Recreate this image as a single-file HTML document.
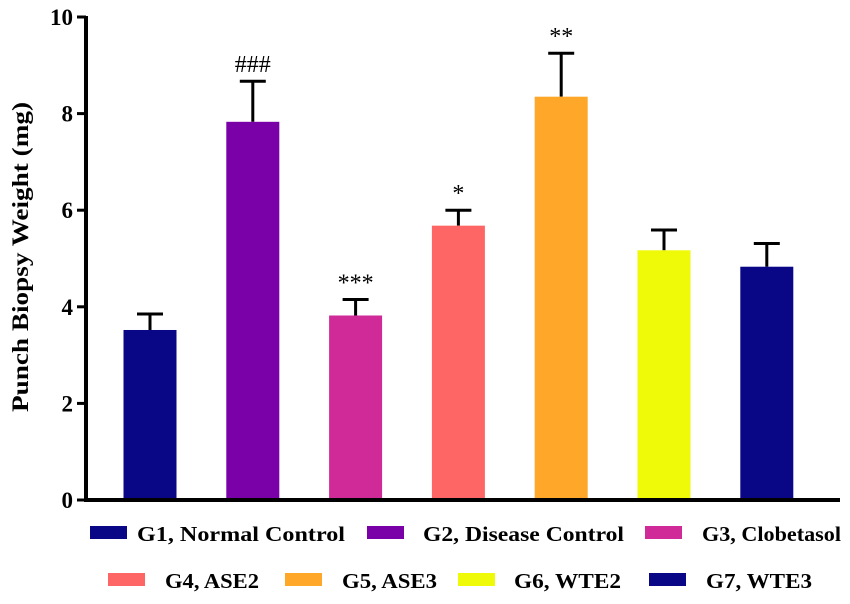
<!DOCTYPE html>
<html><head><meta charset="utf-8"><style>
body{margin:0;background:#fff;}
svg{display:block;font-family:"Liberation Serif",serif;font-weight:bold;}
</style></head><body>
<svg id="chart" width="850" height="604"></svg>
<script>
const categories=["G1, Normal Control","G2, Disease Control","G3, Clobetasol","G4, ASE2","G5, ASE3","G6, WTE2","G7, WTE3"];
const values=[3.52,7.83,3.82,5.68,8.35,5.17,4.83];
const errors=[0.33,0.84,0.33,0.32,0.9,0.42,0.48];
const marks=["","###","***","*","**","",""];
const colors=["#0a0787","#7a00a8","#cf2a98","#fe6666","#fea728","#eefa07","#0a0787"];
const yTicks=[0,2,4,6,8,10];
const NS="http://www.w3.org/2000/svg";
const svg=document.getElementById('chart');
function el(t,a,p){const e=document.createElementNS(NS,t);for(const k in a)e.setAttribute(k,a[k]);(p||svg).appendChild(e);return e;}
const y0=500,pxPer=48.3;
function y(v){return y0-v*pxPer;}
function xc(i){return 150+i*102.8;}
const bw=53;
values.forEach((v,i)=>{
  const e=el('line',{x1:xc(i),x2:xc(i),y1:y(v),y2:y(v+errors[i]),stroke:'#000','stroke-width':3});
  
  
  const c=el('line',{x1:xc(i)-13,x2:xc(i)+13,y1:y(v+errors[i]),y2:y(v+errors[i]),stroke:'#000','stroke-width':3});
  
  
  const r=el('rect',{x:xc(i)-bw/2,y:y(v),width:bw,height:y0-y(v),fill:colors[i]});
  
  
  if(marks[i]){
    const t=el('text',{x:xc(i),y:y(v+errors[i])-9,'text-anchor':'middle','font-size':24,'font-weight':'normal'});
    t.textContent=marks[i];
    
    
  }
});
const ya=el('line',{x1:86,x2:86,y1:16,y2:502,stroke:'#000','stroke-width':4});


const xa=el('line',{x1:84,x2:840,y1:500,y2:500,stroke:'#000','stroke-width':4});


yTicks.forEach(t=>{
  const l=el('line',{x1:77,x2:86,y1:y(t),y2:y(t),stroke:'#000','stroke-width':3});
  
  
  const tx=el('text',{x:73,y:y(t)+8,'text-anchor':'end','font-size':23});
  tx.textContent=t;
  
  
});
const yt=el('text',{x:0,y:0,transform:'translate(28,257) rotate(-90)','text-anchor':'middle','font-size':23,textLength:310,lengthAdjust:'spacingAndGlyphs'});
yt.textContent='Punch Biopsy Weight (mg)';


const legPos=[[90,526,137,208],[367,526,423,201],[645,526,702,139],[108,573,165,94],[285,573,342,95],[458,573,514,107],[649,573,706,106]];
categories.forEach((c,i)=>{
  const [lx,ly,tx,tw]=legPos[i];
  const g=el('g',{});
  
  
  el('rect',{x:lx,y:ly,width:37,height:13,fill:colors[i]},g);
  const t=el('text',{x:tx,y:ly+15,'font-size':21,textLength:tw,lengthAdjust:'spacingAndGlyphs'},g);
  t.textContent=c;
});
</script>
</body></html>
